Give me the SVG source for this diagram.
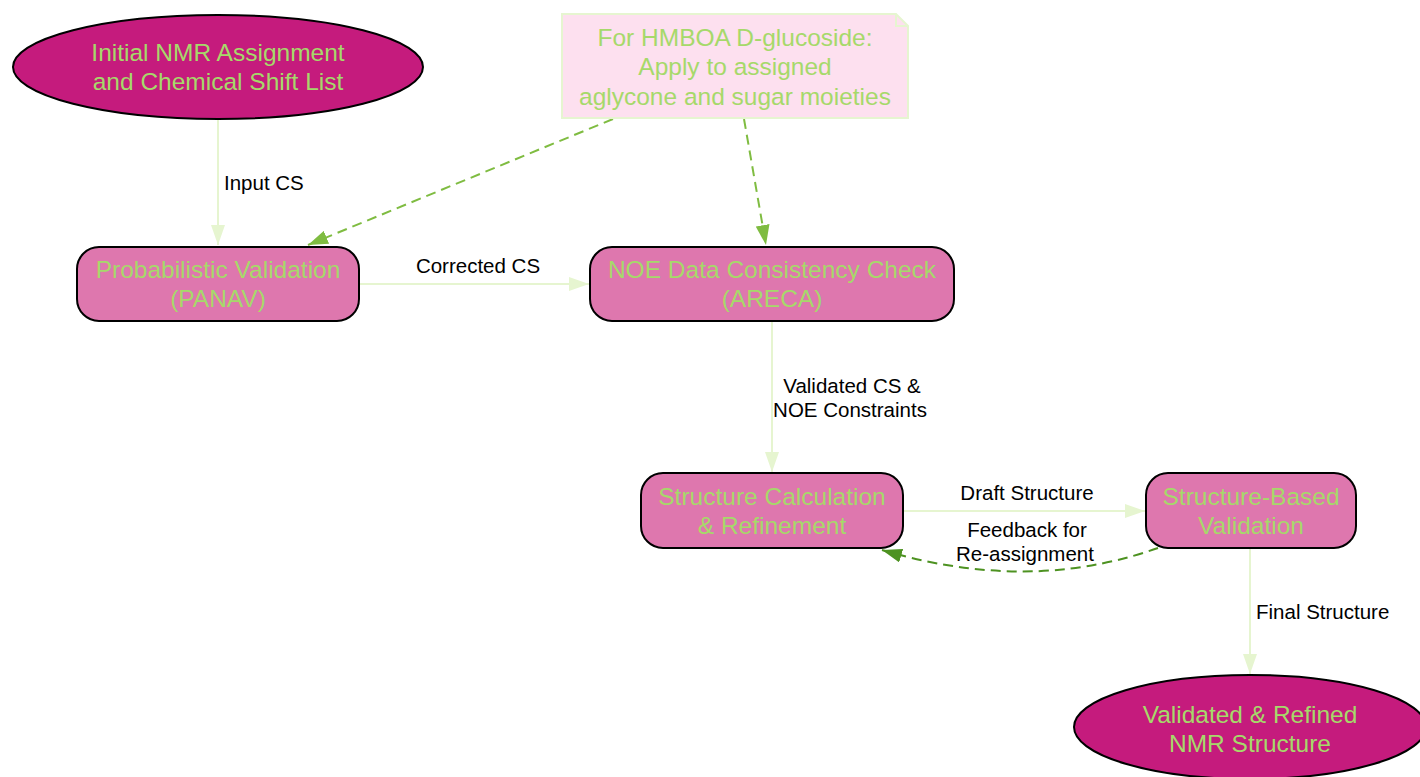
<svg xmlns="http://www.w3.org/2000/svg" width="1420" height="777" viewBox="0 0 1420 777">
<style>
.nt{font-family:"Liberation Sans",Arial,sans-serif;font-size:24.5px;fill:#a6d96a;text-anchor:middle}
.lb{font-family:"Liberation Sans",Arial,sans-serif;font-size:20.5px;fill:#000}
.box{fill:#de77ae;stroke:#000;stroke-width:2}
.ell{fill:#c51b7d;stroke:#000;stroke-width:2}
.e1{fill:none;stroke:#e6f5d0;stroke-width:2}
.e2{fill:none;stroke:#7fbc41;stroke-width:2;stroke-dasharray:10,6}
.e3{fill:none;stroke:#4d9221;stroke-width:2;stroke-dasharray:10,6}
</style>
<defs>
<marker id="a1" viewBox="0 0 20 14" refX="20" refY="7" markerWidth="20" markerHeight="14" markerUnits="userSpaceOnUse" orient="auto"><path d="M0,0 L20,7 L0,14 z" fill="#e6f5d0"/></marker>
<marker id="a2" viewBox="0 0 20 14" refX="20" refY="7" markerWidth="20" markerHeight="14" markerUnits="userSpaceOnUse" orient="auto"><path d="M0,0 L20,7 L0,14 z" fill="#7fbc41"/></marker>
<marker id="a3" viewBox="0 0 20 14" refX="20" refY="7" markerWidth="20" markerHeight="14" markerUnits="userSpaceOnUse" orient="auto"><path d="M0,0 L20,7 L0,14 z" fill="#4d9221"/></marker>
</defs>
<rect width="1420" height="777" fill="#fff"/>
<g id="edges">
<line class="e1" x1="218" y1="120" x2="218" y2="245" marker-end="url(#a1)"/>
<text class="lb" x="224" y="190">Input CS</text>
<line class="e1" x1="360" y1="284" x2="589" y2="284" marker-end="url(#a1)"/>
<text class="lb" x="478" y="273" text-anchor="middle">Corrected CS</text>
<line class="e2" x1="613" y1="119" x2="308" y2="245" marker-end="url(#a2)"/>
<line class="e2" x1="744" y1="119" x2="766" y2="245" marker-end="url(#a2)"/>
<line class="e1" x1="772" y1="322" x2="772" y2="472" marker-end="url(#a1)"/>
<text class="lb" x="852" y="393" text-anchor="middle">Validated CS &amp;</text>
<text class="lb" x="850" y="417" text-anchor="middle">NOE Constraints</text>
<line class="e1" x1="904" y1="511" x2="1145" y2="511" marker-end="url(#a1)"/>
<text class="lb" x="1027" y="500" text-anchor="middle">Draft Structure</text>
<path class="e3" d="M1158,548 C1090,572 1000,585 882,550" marker-end="url(#a3)"/>
<text class="lb" x="1027" y="537" text-anchor="middle">Feedback for</text>
<text class="lb" x="1025" y="561" text-anchor="middle">Re-assignment</text>
<line class="e1" x1="1250" y1="549" x2="1250" y2="674" marker-end="url(#a1)"/>
<text class="lb" x="1256" y="619">Final Structure</text>
</g>
<g id="start">
<ellipse class="ell" cx="218" cy="67" rx="205" ry="52"/>
<text class="nt" x="218" y="61">Initial NMR Assignment</text>
<text class="nt" x="218" y="90">and Chemical Shift List</text>
</g>
<g id="note">
<path d="M562,14 L896,14 L908,26 L908,118 L562,118 z" fill="#fde0ef" stroke="#e6f5d0" stroke-width="2"/>
<path d="M896,14 L896,26 L908,26" fill="none" stroke="#e6f5d0" stroke-width="2"/>
<text class="nt" x="735" y="46">For HMBOA D-glucoside:</text>
<text class="nt" x="735" y="75">Apply to assigned</text>
<text class="nt" x="735" y="105">aglycone and sugar moieties</text>
</g>
<g id="panav">
<rect class="box" x="77" y="247" width="282" height="74" rx="22"/>
<text class="nt" x="218" y="278">Probabilistic Validation</text>
<text class="nt" x="218" y="307">(PANAV)</text>
</g>
<g id="areca">
<rect class="box" x="590" y="247" width="364" height="74" rx="22"/>
<text class="nt" x="772" y="278">NOE Data Consistency Check</text>
<text class="nt" x="772" y="307">(ARECA)</text>
</g>
<g id="calc">
<rect class="box" x="641" y="473" width="262" height="75" rx="22"/>
<text class="nt" x="772" y="505">Structure Calculation</text>
<text class="nt" x="772" y="534">&amp; Refinement</text>
</g>
<g id="sbv">
<rect class="box" x="1146" y="473" width="210" height="75" rx="22"/>
<text class="nt" x="1251" y="505">Structure-Based</text>
<text class="nt" x="1251" y="534">Validation</text>
</g>
<g id="final">
<ellipse class="ell" cx="1250" cy="727" rx="176" ry="52"/>
<text class="nt" x="1250" y="723">Validated &amp; Refined</text>
<text class="nt" x="1250" y="752">NMR Structure</text>
</g>
</svg>
